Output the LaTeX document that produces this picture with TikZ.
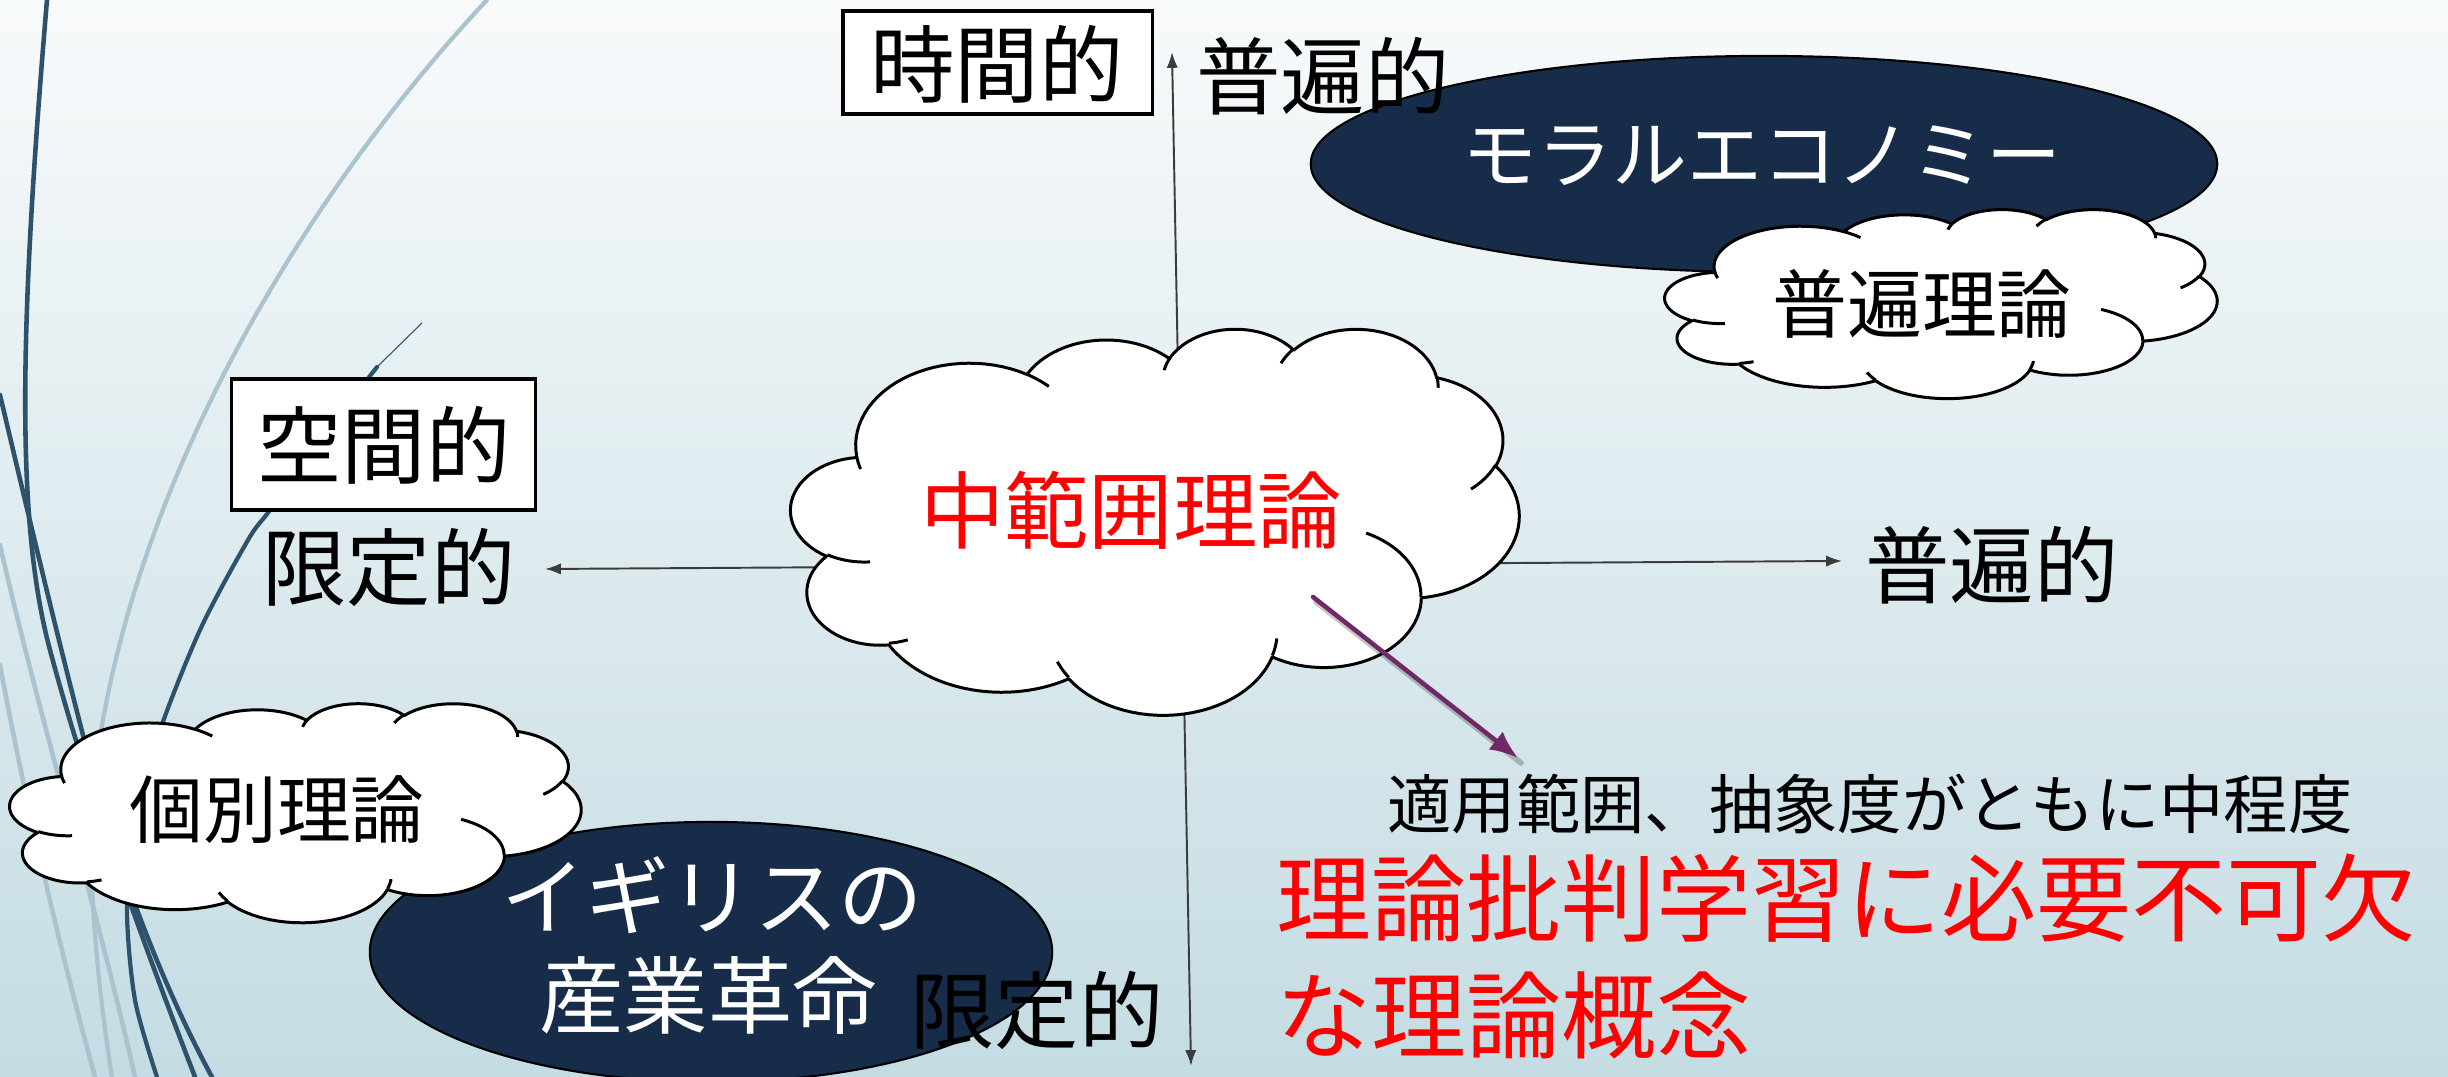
\documentclass[tikz,border=0pt]{standalone}
\usepackage{fontspec}
\setmainfont{Noto Sans CJK JP}
\usetikzlibrary{arrows.meta,shapes.geometric}
\definecolor{navy}{RGB}{22,44,73}
\definecolor{bgtop}{RGB}{248,250,251}
\definecolor{bgbot}{RGB}{196,220,227}
\definecolor{decodark}{RGB}{45,82,108}
\definecolor{decolight}{RGB}{170,195,206}
\definecolor{axisgray}{RGB}{60,60,60}
\definecolor{plumarrow}{RGB}{112,40,105}

% ---- PowerPoint-like cloud outline, built from elliptical arcs (0..432 box) ----
\newcommand\CLreset{\gdef\CLpath{}\gdef\CLsep{}}
\newcommand\CLmoveto[2]{\gdef\CLx{#1}\gdef\CLy{#2}\gdef\CLsep{}}
\newcommand\CLarc[4]{%
  \pgfmathsetmacro\CLa{#1}%
  \pgfmathsetmacro\CLb{#2}%
  \pgfmathsetmacro\CLth{#3}%
  \pgfmathsetmacro\CLte{#3+#4}%
  \pgfmathsetmacro\CLts{atan2(\CLa*sin(\CLth),\CLb*cos(\CLth))}%
  \pgfmathsetmacro\CLtf{atan2(\CLa*sin(\CLte),\CLb*cos(\CLte))}%
  \pgfmathsetmacro\CLtf{(\CLtf<\CLts) ? \CLtf+360 : \CLtf}%
  \pgfmathsetmacro\CLcx{\CLx-\CLa*cos(\CLts)}%
  \pgfmathsetmacro\CLcy{\CLy-\CLb*sin(\CLts)}%
  \xdef\CLpath{\unexpanded\expandafter{\CLpath}\CLsep plot[domain=\CLts:\CLtf,samples=30] ({\CLcx+\CLa*cos(\noexpand\x)},{\CLcy+\CLb*sin(\noexpand\x)})}%
  \gdef\CLsep{ -- }%
  \pgfmathsetmacro\CLx{\CLcx+\CLa*cos(\CLtf)}\global\let\CLx\CLx
  \pgfmathsetmacro\CLy{\CLcy+\CLb*sin(\CLtf)}\global\let\CLy\CLy
}
\newcommand\cloudat[5]{% name, x0, y0, w, h
  \begin{scope}[shift={(#2,#3)},xscale=#4/432,yscale=#5/432]
    \filldraw[cloudline] \CLmain -- cycle;
    \draw[cloudline] \CLinner;
  \end{scope}
  \coordinate (#1) at ({#2+#4/2},{#3+#5/2});
}

\begin{document}
\begin{tikzpicture}[x=0.01cm,y=-0.01cm,
  cloudline/.style={draw=black,line width=0.85pt,fill=white,line join=round},
  boxnode/.style={draw=black,line width=0.9pt,fill=white,inner sep=0pt},
  ellnode/.style={ellipse,draw=black,line width=0.6pt,fill=navy,inner sep=0pt},
  jp/.style={inner sep=0pt,font=\fontsize{#1}{#1}\selectfont},
  axisline/.style={draw=axisgray,line width=0.55pt,{Latex[length=4.5pt,width=3.2pt]}-{Latex[length=4.5pt,width=3.2pt]}},
  decod/.style={draw=decodark,line cap=round},
  decol/.style={draw=decolight,line cap=round}]

% ---- cloud geometry ----
\CLreset
\CLmoveto{39.00}{143.70}
\CLarc{67.53}{91.90}{-190.4875}{123.7805}
\CLarc{53.33}{72.67}{-144.1024}{89.9452}
\CLarc{43.65}{59.45}{-145.8079}{99.7230}
\CLarc{48.57}{65.95}{-130.9861}{117.2417}
\CLarc{53.33}{72.73}{-78.7089}{109.0269}
\CLarc{67.75}{92.20}{-46.2673}{130.2690}
\CLarc{57.85}{78.67}{0.6250}{114.0333}
\CLarc{67.52}{92.15}{22.4516}{115.1726}
\CLarc{77.20}{105.43}{66.2426}{75.7110}
\CLarc{43.60}{59.18}{-274.9421}{146.7356}
\CLarc{43.45}{59.45}{-246.8285}{152.5189}
\global\let\CLmain\CLpath
\CLreset
\CLmoveto{46.93}{261.77}\CLarc{43.45}{59.45}{86.7420}{26.4295}
\CLmoveto{69.28}{348.99}\CLarc{43.60}{59.18}{73.6105}{11.4475}
\CLmoveto{164.78}{390.90}\CLarc{67.52}{92.15}{137.6242}{14.0811}
\CLmoveto{288.27}{347.51}\CLarc{67.52}{92.15}{6.4533}{15.9984}
\CLmoveto{341.29}{229.54}\CLarc{57.85}{78.67}{-70.2924}{70.9174}
\CLmoveto{417.98}{153.54}\CLarc{53.33}{72.73}{30.3180}{27.7515}
\CLmoveto{383.24}{54.26}\CLarc{48.57}{65.95}{-13.7443}{14.8589}
\CLmoveto{290.78}{39.52}\CLarc{48.57}{65.95}{-149.1815}{18.1954}
\CLmoveto{221.41}{47.20}\CLarc{43.65}{59.45}{-163.4943}{17.6864}
\CLmoveto{140.00}{51.92}\CLarc{67.53}{91.90}{-66.7070}{12.3194}
\CLmoveto{41.27}{157.89}\CLarc{67.53}{91.90}{157.6544}{11.8582}
\global\let\CLinner\CLpath

% ---- canvas ----
\useasboundingbox (0,0) rectangle (2448,1077);
\clip (0,0) rectangle (2448,1077);
\shade[top color=bgtop,bottom color=bgbot] (0,0) rectangle (2448,1077);

% ---- decorative curves ----
\draw[decol,line width=1.2pt] (487,0) .. controls (300,200) and (120,500) .. (92,800) .. controls (88,900) and (100,1000) .. (112,1077);
\draw[decol,line width=1.3pt] (0,545) .. controls (40,720) and (95,900) .. (135,1077);
\draw[decol,line width=1.3pt] (0,665) .. controls (25,800) and (60,950) .. (95,1077);
\draw[decod,line width=1.3pt] (47,0) .. controls (20,320) and (15,520) .. (50,650) .. controls (90,800) and (150,960) .. (195,1077);
\draw[decod,line width=1.3pt] (0,395) .. controls (25,500) and (60,650) .. (100,800) .. controls (130,900) and (170,1000) .. (212,1077);
\draw[decod,line width=0.3pt] (422,323) -- (377,367);
\draw[decod,line width=1.2pt] plot[smooth] coordinates {(377,367) (320,440) (270,510) (248,540) (200,630) (157,739) (135,830) (127,910) (135,1000) (157,1077)};

% ---- axes ----
\coordinate (vtop) at (1172,52);
\coordinate (vbot) at (1191,1066);
\coordinate (hleft) at (545,569);
\coordinate (hright) at (1842,561);
\draw[axisline] (vbot) -- (vtop);
\draw[axisline] (hleft) -- (hright);

% ---- dark ellipses ----
\node[ellnode,minimum width=9.06cm,minimum height=2.16cm] (moral) at (1764,164) {};
\node[ellnode,minimum width=6.82cm,minimum height=2.60cm] (igiris) at (711,952) {};

% ---- clouds ----
\cloudat{midcloud}{791}{328}{728}{386}
\cloudat{univcloud}{1665}{209}{552}{189}
\cloudat{indivcloud}{10}{703}{571}{219}

% ---- boxes ----
\node[boxnode,minimum width=3.09cm,minimum height=1.03cm] (timebox) at (997.5,62.5) {};
\node[boxnode,minimum width=3.03cm,minimum height=1.31cm] (spacebox) at (383.5,444.5) {};

% ---- texts ----
\node[jp=24] (ttime) at (997,64) {時間的};
\node[jp=24] (tunivtop) at (1323,76) {普遍的};
\node[jp=21.3,text=white] (tmoral) at (1762,156) {モラルエコノミー};
\node[jp=21.3] (tunivth) at (1922,304) {普遍理論};
\node[jp=24] (tspace) at (384,445) {空間的};
\node[jp=24] (tlimleft) at (389,567) {限定的};
\node[jp=24] (tunivright) at (1992,565) {普遍的};
\node[jp=24,text=red] (tmid) at (1131,510) {中範囲理論};
\node[jp=21] (tindiv) at (277,810) {個別理論};
\node[jp=24,text=white] (tigiris) at (712,895) {イギリスの};
\node[jp=24,text=white] (tsangyo) at (708,995) {産業革命};
\node[jp=24] (tlimbot) at (1037,1010) {限定的};
\node[jp=18.3] (tdesc) at (1870,804) {適用範囲、抽象度がともに中程度};
\node[jp=27,text=red,anchor=west] (tred1) at (1276,898) {理論批判学習に必要不可欠};
\node[jp=27,text=red,anchor=west] (tred2) at (1276,1015) {な理論概念};

% ---- purple pointer ----
\coordinate (pstart) at (1313,597);
\coordinate (pend) at (1518,758);
\draw[black,opacity=0.22,line width=1.6pt,line cap=round] ([shift={(3,5)}]pstart) -- ([shift={(3,5)}]pend);
\draw[plumarrow,line width=1.3pt,line cap=round,-{Latex[length=8pt,width=6.5pt]}] (pstart) -- (pend);
\end{tikzpicture}
\end{document}
